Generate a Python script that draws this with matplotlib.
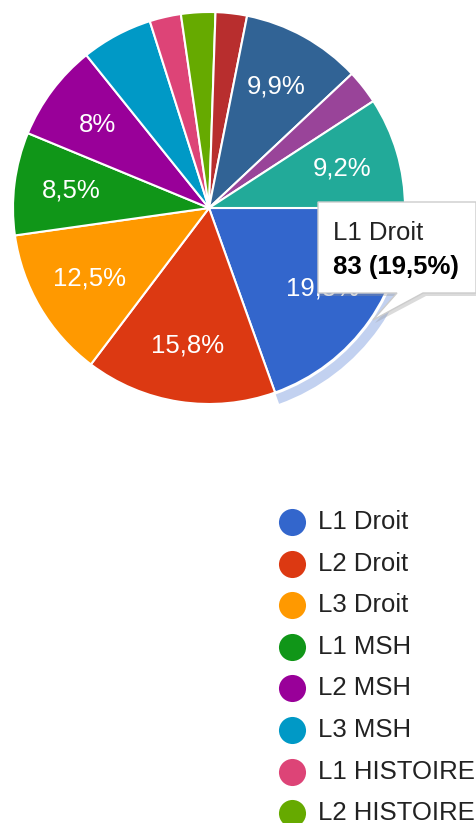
import matplotlib
matplotlib.use("Agg")
import matplotlib.pyplot as plt
from matplotlib.patches import Wedge, Polygon

plt.rcParams['font.family'] = ['Liberation Sans', 'DejaVu Sans']

categories = ["L1 Droit", "L2 Droit", "L3 Droit", "L1 MSH", "L2 MSH", "L3 MSH",
              "L1 HISTOIRE", "L2 HISTOIRE", "L3 HISTOIRE", "L1 AES", "L2 AES", "L3 AES"]
counts = [83, 67, 53, 36, 34, 25, 11, 12, 11, 42, 12, 39]
colors = ["#3366cc", "#dc3912", "#ff9900", "#109618", "#990099", "#0099c6",
          "#dd4477", "#66aa00", "#b82e2e", "#316395", "#994499", "#22aa99"]
highlight = "L1 Droit"

W, H = 476, 823
fig = plt.figure(figsize=(W / 100, H / 100), dpi=100)

# pie axes: center at pixel (209, 208), radius 196
cx, cy, R, half = 209, 208, 196, 212
ax = fig.add_axes([(cx - half) / W, (H - cy - half) / H, 2 * half / W, 2 * half / H])
ax.axis('off')

total = sum(counts)

def fmt(p):
    if p < 7:
        return ""
    s = f"{p:.1f}".replace(".", ",")
    if s.endswith(",0"):
        s = s[:-2]
    return s + "%"

wedges, texts, autotexts = ax.pie(
    counts, colors=colors, radius=R, startangle=0, counterclock=False,
    autopct=fmt, pctdistance=0.71,
    wedgeprops=dict(edgecolor="white", linewidth=1.5),
    textprops=dict(color="white", fontsize=18.5))
ax.set_xlim(-half, half)
ax.set_ylim(-half, half)
ax.set_aspect('equal')

hi = categories.index(highlight)
w0 = wedges[hi]
ring = Wedge((0, 0), R + 12, w0.theta1, w0.theta2, width=10,
             facecolor="#c2d1f0", edgecolor="none", zorder=0.5)
ax.add_patch(ring)

# overlay axes in pixel coordinates
ov = fig.add_axes([0, 0, 1, 1], zorder=5)
ov.set_xlim(0, W)
ov.set_ylim(H, 0)
ov.axis('off')
ov.patch.set_alpha(0)

# tooltip
shadow = Polygon([(320, 204), (478, 204), (478, 296), (426, 296), (375, 323), (400, 296), (320, 296)],
                 closed=True, facecolor="#999999", alpha=0.35, edgecolor="none", zorder=1)
ov.add_patch(shadow)
tip = Polygon([(318, 202), (476, 202), (476, 293), (423, 293), (373, 320), (397, 293), (318, 293)],
              closed=True, facecolor="white", edgecolor="#cccccc", linewidth=1.0, zorder=2)
ov.add_patch(tip)
pct_hi = counts[hi] / total * 100
ov.text(333, 240, categories[hi], fontsize=18.5, color="#222222", va="baseline", ha="left", zorder=3)
ov.text(333, 274, f"{counts[hi]} ({pct_hi:.1f}%)".replace(".", ","), fontsize=18.5,
        fontweight="bold", color="#000000", va="baseline", ha="left", zorder=3)

# legend (entries below the visible area are clipped away as in the reference)
y0, dy = 522, 41.6
for i, (lab, col) in enumerate(zip(categories, colors)):
    y = y0 + i * dy
    if y - 12 > H:
        break
    ov.plot([292], [y], marker='o', markersize=19.5, color=col, markeredgewidth=0, zorder=3)
    ov.text(318, y, lab, fontsize=18.5, color="#222222", va="center", ha="left", zorder=3)

fig.savefig("out.png", dpi=100)
